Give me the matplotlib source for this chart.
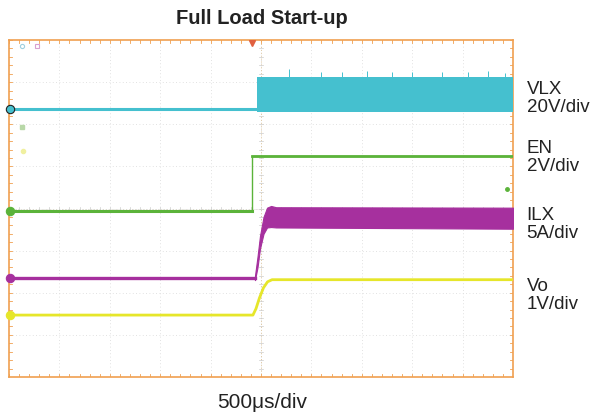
import matplotlib
matplotlib.use("Agg")
import matplotlib.pyplot as plt
import numpy as np

plt.rcParams['font.family'] = ['Liberation Sans', 'DejaVu Sans']

# ---- data (in scope divisions: x 0..10, y 0..8) ----
vlx_t = [0.0, 4.92]
vlx_y = [6.37, 6.37]
vlx_band_t = [4.92, 10.0]
vlx_band_hi = [7.13, 7.13]
vlx_band_lo = [6.30, 6.30]
vlx_spike_t = [5.55, 6.2, 6.6, 7.1, 7.6, 8.0, 8.6, 9.1, 9.5, 9.85]
vlx_spike_y = [7.3, 7.25, 7.24, 7.27, 7.23, 7.25, 7.25, 7.25, 7.27, 7.22]

en_t = [0.0, 4.82, 4.82, 10.0]
en_y = [3.94, 3.94, 5.25, 5.25]

ilx_t = [0.0, 4.88]
ilx_y = [2.35, 2.35]
ilx_band_t = [4.88, 4.93, 4.98, 5.05, 5.12, 5.2, 5.3, 10.0]
ilx_band_hi = [2.40, 2.85, 3.35, 3.80, 4.02, 4.06, 4.03, 4.02]
ilx_band_lo = [2.30, 2.60, 3.05, 3.40, 3.55, 3.56, 3.55, 3.52]

vo_t = [0.0, 4.84, 4.90, 4.97, 5.05, 5.13, 5.22, 10.0]
vo_y = [1.47, 1.47, 1.62, 1.88, 2.12, 2.26, 2.31, 2.31]

labels = ["VLX\n20V/div", "EN\n2V/div", "ILX\n5A/div", "Vo\n1V/div"]
label_y = [6.6, 5.22, 3.61, 1.94]
marker_y = [6.37, 3.94, 2.35, 1.47]

title = "Full Load Start-up"
xlabel = "500\u03bcs/div"

c_vlx = "#45c0cf"
c_en = "#5bb33a"
c_ilx = "#a6309e"
c_vo = "#e6e62a"
c_frame = "#f0a050"
colors = [c_vlx, c_en, c_ilx, c_vo]

fig = plt.figure(figsize=(5.92, 4.18), dpi=100)
ax = fig.add_axes([9/592, 1-377/418, (513-9)/592, (377-40)/418])
ax.set_xlim(0, 10)
ax.set_ylim(0, 8)

# grid
for gx in range(1, 10):
    ax.axvline(gx, color="#d8d8d8", lw=0.6, ls=(0, (1, 3)), zorder=0)
for gy in range(1, 8):
    ax.axhline(gy, color="#d8d8d8", lw=0.6, ls=(0, (1, 3)), zorder=0)
ax.axvline(5, color="#e0c8a0", lw=0.7, ls=(0, (1, 2)), zorder=0)
ax.axhline(4, color="#e0d8d0", lw=0.7, ls=(0, (1, 2)), zorder=0)
# minor ticks on centre lines and edges
for m in np.arange(0, 10.01, 0.2):
    ax.plot([m, m], [3.96, 4.04], color="#cccccc", lw=0.5, zorder=0)
    ax.plot([m, m], [7.92, 8.0], color=c_frame, lw=0.6, zorder=0)
    ax.plot([m, m], [0.0, 0.08], color=c_frame, lw=0.6, zorder=0)
for m in np.arange(0, 8.01, 0.2):
    ax.plot([4.97, 5.03], [m, m], color="#cccccc", lw=0.5, zorder=0)
    ax.plot([0, 0.06], [m, m], color=c_frame, lw=0.6, zorder=0)
    ax.plot([9.94, 10], [m, m], color=c_frame, lw=0.6, zorder=0)

# traces
ax.plot(vlx_t, vlx_y, color=c_vlx, lw=2.2, zorder=3)
ax.fill_between(vlx_band_t, vlx_band_lo, vlx_band_hi, color=c_vlx, lw=0, zorder=3)
ax.vlines(vlx_spike_t, 7.0, vlx_spike_y, color=c_vlx, lw=0.7, zorder=3)

ax.plot(en_t, en_y, color=c_en, lw=1.0, zorder=3)
ax.plot(en_t[:2], en_y[:2], color=c_en, lw=2.2, zorder=3)
ax.plot(en_t[2:], en_y[2:], color=c_en, lw=2.0, zorder=3)

ax.plot(ilx_t, ilx_y, color=c_ilx, lw=2.4, zorder=3)
ax.fill_between(ilx_band_t, ilx_band_lo, ilx_band_hi, color=c_ilx, lw=0.8, edgecolor=c_ilx, zorder=3)

ax.plot(vo_t, vo_y, color=c_vo, lw=2.0, zorder=3)

# channel markers on left edge
for y, c in zip(marker_y, colors):
    ax.plot([0.02], [y], marker="o", ms=6, mfc=c, mec="#222222" if c == c_vlx else c, mew=0.8, clip_on=False, zorder=5)
# small indicator dots
ax.plot([0.25], [7.86], marker="o", ms=3, mfc="none", mec="#9fd0e0", mew=0.8)
ax.plot([0.56], [7.86], marker="s", ms=3, mfc="none", mec="#d8a0d0", mew=0.8)
ax.plot([0.26], [5.93], marker="s", ms=3, mfc="#b8d8a8", mec="#b8d8a8")
ax.plot([0.28], [5.36], marker="o", ms=3, mfc="#f0f0a0", mec="#f0f0a0")
ax.plot([9.88], [4.47], marker="o", ms=2.5, color=c_en)
ax.plot([4.82], [7.93], marker="v", ms=4, color="#e06040", zorder=5)

for s in ax.spines.values():
    s.set_color(c_frame)
    s.set_linewidth(1.2)
ax.set_xticks([])
ax.set_yticks([])

for t, y in zip(labels, label_y):
    ax.text(10.27, y, t, fontsize=13.5, color="#222222", va="center", ha="left",
            linespacing=1.08, clip_on=False)

fig.text(262/592, 1-18/418, title, fontsize=14.5, fontweight="bold", ha="center", va="center", color="#222222")
fig.text(262/592, 1-403/418, xlabel, fontsize=15, ha="center", va="center", color="#222222")

fig.savefig("out.png", dpi=100)
